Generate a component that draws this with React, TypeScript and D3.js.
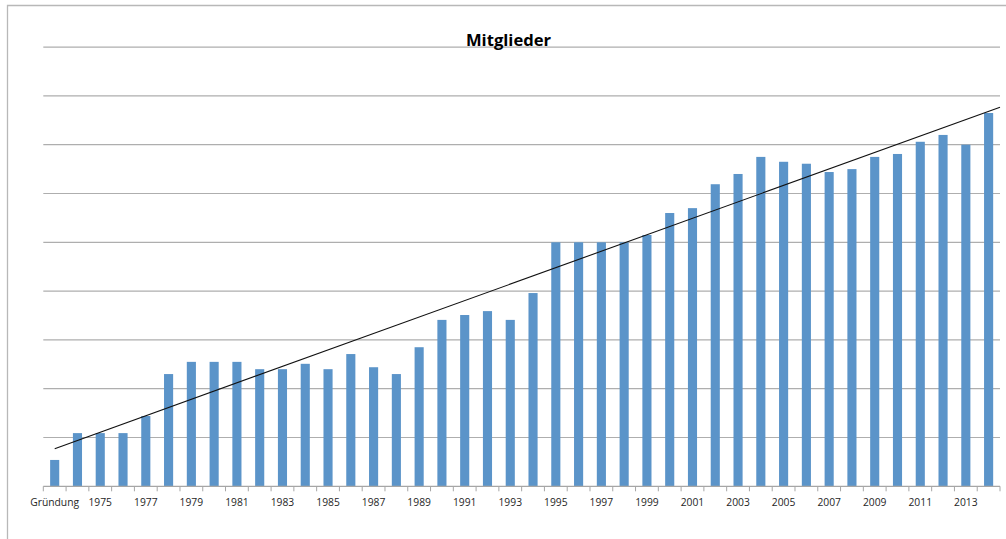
import React from "react";
import * as d3 from "d3";

const title = "Mitglieder";
const categories = [
  "Gründung", "1974", "1975", "1976", "1977", "1978", "1979", "1980", "1981", "1982",
  "1983", "1984", "1985", "1986", "1987", "1988", "1989", "1990", "1991", "1992",
  "1993", "1994", "1995", "1996", "1997", "1998", "1999", "2000", "2001", "2002",
  "2003", "2004", "2005", "2006", "2007", "2008", "2009", "2010", "2011", "2012",
  "2013", "2014",
];
const members = [
  54, 109, 109, 109, 144, 230, 255, 255, 255, 240,
  240, 251, 240, 271, 244, 230, 285, 341, 351, 359,
  341, 396, 500, 500, 500, 500, 515, 560, 570, 619,
  640, 675, 665, 661, 644, 650, 675, 681, 706, 720,
  700, 765,
];
const yTicks = [0, 100, 200, 300, 400, 500, 600, 700, 800, 900];

const W = 1006;
const H = 539;
const left = 43.3;
const right = 1000;
const top = 47.1;
const bottom = 486.3;

export default function App() {
  const x = d3
    .scaleBand<string>()
    .domain(categories)
    .range([left, right])
    .paddingInner(0.6)
    .paddingOuter(0.3);
  const y = d3.scaleLinear().domain([0, 900]).range([bottom, top]);
  const step = x.step();
  // index -> pixel (category centre)
  const xi = d3
    .scaleLinear()
    .domain([0, categories.length])
    .range([left + step / 2, right + step / 2]);

  // least-squares linear trend
  const idx = members.map((_, i) => i);
  const mx = d3.mean(idx) as number;
  const my = d3.mean(members) as number;
  const sxy = d3.sum(idx, (i) => (i - mx) * (members[i] - my));
  const sxx = d3.sum(idx, (i) => (i - mx) * (i - mx));
  const slope = sxy / sxx;
  const intercept = my - slope * mx;
  const endIdx = xi.invert(right);
  const trend: [number, number][] = [
    [0, intercept],
    [endIdx, intercept + slope * endIdx],
  ];
  const line = d3
    .line<[number, number]>()
    .x((d) => xi(d[0]))
    .y((d) => y(d[1]));

  const boundaries = d3.range(categories.length + 1).map((i) => left + i * step);

  return (
    <svg
      width={W}
      height={H}
      style={{ position: "absolute", left: 0, top: 0, background: "#fff" }}
      fontFamily="'Open Sans', sans-serif"
    >
      <rect x={0} y={0} width={W} height={H} fill="#fff" />
      {/* chart frame */}
      <path d={`M7.5,${H} V5.5 H${W}`} fill="none" stroke="#b8b8b8" strokeWidth={1.3} />
      {/* gridlines */}
      {yTicks.slice(1).map((t) => (
        <line key={t} x1={left} x2={right} y1={y(t)} y2={y(t)} stroke="#aeaeae" strokeWidth={1.2} />
      ))}
      {/* title */}
      <text x={508.5} y={46} textAnchor="middle" fontSize={16.6} fontWeight="bold" fill="#000">
        {title}
      </text>
      {/* bars */}
      {members.map((v, i) => (
        <rect
          key={categories[i]}
          x={x(categories[i])}
          y={y(v)}
          width={x.bandwidth()}
          height={y(0) - y(v)}
          fill="#5b94c9"
        />
      ))}
      {/* axis */}
      <line x1={left} x2={right} y1={y(0)} y2={y(0)} stroke="#a6a6a6" strokeWidth={1.2} />
      {boundaries.map((b, i) => (
        <line key={i} x1={b} x2={b} y1={y(0)} y2={y(0) + 5} stroke="#a6a6a6" strokeWidth={1} />
      ))}
      {categories.map((c, i) =>
        i % 2 === 0 ? (
          <text
            key={c}
            x={(x(c) as number) + x.bandwidth() / 2}
            y={506}
            textAnchor="middle"
            fontSize={10.3}
            fill="#262626"
          >
            {c}
          </text>
        ) : null
      )}
      {/* trendline */}
      <path d={line(trend) as string} fill="none" stroke="#111" strokeWidth={1.1} />
    </svg>
  );
}
